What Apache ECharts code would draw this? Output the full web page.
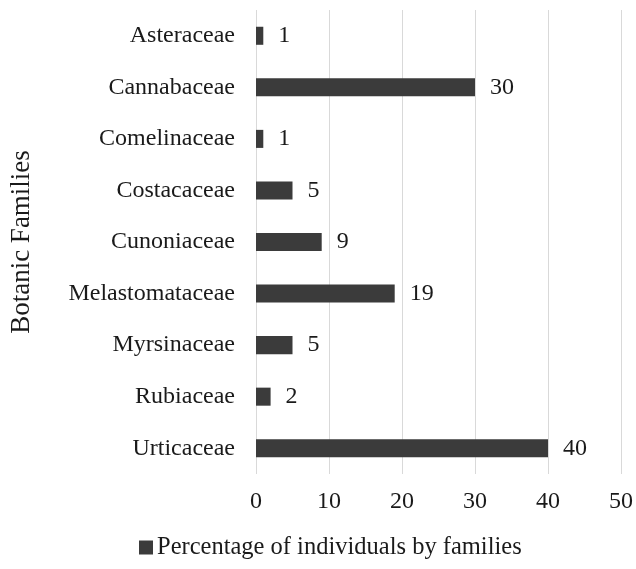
<!DOCTYPE html>
<html><head><meta charset="utf-8">
<script src="https://cdn.jsdelivr.net/npm/echarts@6/dist/echarts.min.js"></script>
<style>html,body{margin:0;padding:0;background:#fff}#c{width:636px;height:569px}</style>
</head><body><div id="c"></div>
<script>
var categories = ['Asteraceae','Cannabaceae','Comelinaceae','Costacaceae','Cunoniaceae','Melastomataceae','Myrsinaceae','Rubiaceae','Urticaceae'];
var values = [1,30,1,5,9,19,5,2,40];
var xTicks = [0,10,20,30,40,50];
var seriesName = 'Percentage of individuals by families';
var yTitle = 'Botanic Families';
var font = 'Liberation Serif';
var chart = echarts.init(document.getElementById('c'));
chart.setOption({
  animation:false,
  textStyle:{fontFamily:font},
  grid:{left:256,width:366,top:10,height:464,containLabel:false},
  legend:{bottom:4,left:134,itemWidth:14,itemHeight:14,icon:'rect',itemGap:10,
    textStyle:{fontFamily:font,fontSize:24.5,color:'#1a1a1a',padding:[0,0,0,-1]},data:[seriesName]},
  xAxis:{type:'value',min:xTicks[0],max:xTicks[xTicks.length-1],interval:10,
    axisLine:{show:false},axisTick:{show:false},
    splitLine:{show:true,lineStyle:{color:'#d9d9d9',width:1}},
    axisLabel:{fontFamily:font,fontSize:24,color:'#1a1a1a',margin:16}},
  yAxis:{type:'category',data:categories,inverse:true,
    axisLine:{show:false},axisTick:{show:false},
    axisLabel:{fontFamily:font,fontSize:24,color:'#1a1a1a',margin:21},
    name:yTitle,nameLocation:'middle',nameGap:221,nameRotate:90,
    nameTextStyle:{fontFamily:font,fontSize:27,color:'#1a1a1a'}},
  series:[{name:seriesName,type:'bar',data:values,barCategoryGap:'65%',
    itemStyle:{color:'#3b3b3b'},
    label:{show:true,position:'right',distance:15,fontFamily:font,fontSize:24,color:'#1a1a1a'}}]
});
</script></body></html>
